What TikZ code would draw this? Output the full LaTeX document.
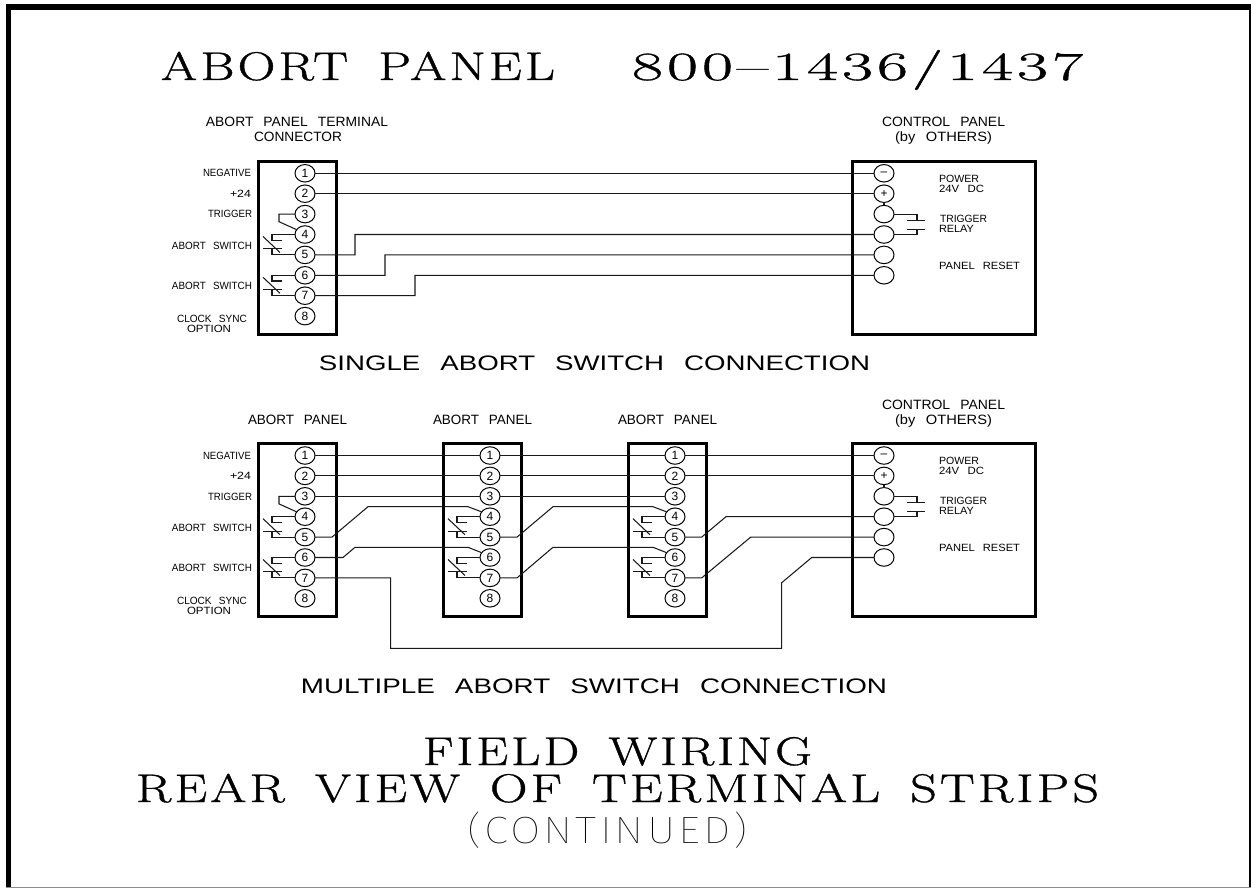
\documentclass[tikz,border=0pt]{standalone}
\usepackage{fontspec}
\usepackage{graphicx}
\usetikzlibrary{shapes.geometric,calc}
\newfontfamily\cadfont{Liberation Sans}[WordSpace=2.6]
\newfontfamily\ttlfont{Latin Modern Roman}[LetterSpace=6,WordSpace=1.6,FakeBold=0.8]
\newfontfamily\thinfont{Fira Sans Thin}[LetterSpace=7]
% text of a given width (pt), font size (pt), font switch
\newcommand\fw[4]{\resizebox{#1pt}{\height}{\fontsize{#2pt}{#2pt}\selectfont#3#4}}
\tikzset{
  x=1pt,y=-1pt,
  txt/.style={inner sep=0pt,outer sep=0pt,anchor=base,text=black},
  wire/.style={line width=1.05pt,line join=miter,draw=black!90},
  strip/.style={draw=black,line width=3pt,rectangle,inner sep=0pt,outer sep=0pt,minimum width=78pt,minimum height=172.7pt},
  panelbox/.style={strip,minimum width=183pt},
  term/.style={draw=black,line width=1pt,fill=white,ellipse,inner sep=0pt,outer sep=0pt,minimum width=20pt,minimum height=17.5pt,font=\cadfont\fontsize{12pt}{12pt}\selectfont},
}
% terminal column: prefix, x, first row y
\newcommand\terminals[3]{%
  \foreach \i in {1,...,8} {\node[term] (#1\i) at (#2,{#3+20.4*(\i-1)}) {\i};}}
% normally-closed switch between two terminals
\newcommand\abortswitch[2]{%
  \draw[wire] (#1.west) -- ($(#1.west)+(-23,0)$) -- ($(#1.west)+(-23,5.7)$) -- ($(#1.west)+(-13,5.7)$);
  \draw[wire] (#2.west) -- ($(#2.west)+(-23,0)$) -- ($(#2.west)+(-23,-6)$);
  \draw[wire] ($(#2.west)+(-32,-6)$) -- ($(#2.west)+(-13,-6)$);
  \draw[wire] ($(#1.west)+(-32,2)$) -- ($(#1.west)+(-15,18)$);}
% control panel: prefix, first row y
\newcommand\controlpanel[2]{%
  \foreach \i/\t in {1/{–},2/{+},3/{},4/{},5/{},6/{}} {\node[term] (#1\i) at (884,{#2+20.4*(\i-1)}) {\t};}
  \draw[wire] (#12.south) -- (#13.north);
  \draw[wire] (#13.east) -| ($(#13.east)+(23,6.6)$);
  \draw[wire] ($(#13.east)+(13,6.6)$) -- ($(#13.east)+(31,6.6)$);
  \draw[wire] (#14.east) -| ($(#14.east)+(23,-5.3)$);
  \draw[wire] ($(#14.east)+(13,-5.3)$) -- ($(#14.east)+(31,-5.3)$);
  \node[txt] (#1tp) at (959,{#2+9.4}) {\fw{40}{10.5}{\cadfont}{POWER}};
  \node[txt] (#1tv) at (961.5,{#2+19.4}) {\fw{45}{10.5}{\cadfont}{24V DC}};
  \node[txt] (#1tt) at (963.5,{#2+49.4}) {\fw{47}{10.5}{\cadfont}{TRIGGER}};
  \node[txt] (#1tr) at (956.5,{#2+59.4}) {\fw{35}{10.5}{\cadfont}{RELAY}};
  \node[txt] (#1tq) at (979.5,{#2+96.4}) {\fw{81}{10.5}{\cadfont}{PANEL RESET}};
  \node[txt] (#1ha) at (943.5,{#2-46.3}) {\fw{123}{13.5}{\cadfont}{CONTROL PANEL}};
  \node[txt] (#1hb) at (943.5,{#2-31.3}) {\fw{97}{13.5}{\cadfont}{(by OTHERS)}};}
% left labels: prefix, first row y
\newcommand\leftlabels[2]{%
  \node[txt] (#1la) at (227,{#2+3.7}) {\fw{48}{10.5}{\cadfont}{NEGATIVE}};
  \node[txt] (#1lb) at (240.5,{#2+24.2}) {\fw{21}{10.5}{\cadfont}{+24}};
  \node[txt] (#1lc) at (230,{#2+44.7}) {\fw{44}{10.5}{\cadfont}{TRIGGER}};
  \node[txt] (#1ld) at (212,{#2+75.7}) {\fw{80}{10.5}{\cadfont}{ABORT SWITCH}};
  \node[txt] (#1le) at (212,{#2+115.7}) {\fw{80}{10.5}{\cadfont}{ABORT SWITCH}};
  \node[txt] (#1lf) at (212,{#2+149.2}) {\fw{70}{10.5}{\cadfont}{CLOCK SYNC}};
  \node[txt] (#1lg) at (209,{#2+159.4}) {\fw{44}{10.5}{\cadfont}{OPTION}};}
\begin{document}
\begin{tikzpicture}
\useasboundingbox (0,0) rectangle (1251,888);
\fill[white] (0,0) rectangle (1251,888);
% sheet frame
\fill[black] (5.5,4) rectangle (1251,10);
\fill[black] (5.5,4) rectangle (11,888);
\fill[black] (1248.5,4) rectangle (1251,888);
\fill[black!45] (5.5,886.5) rectangle (1251,888);
% titles
\node[txt] (title) at (622,80) {\fw{394}{40}{\ttlfont}{ABORT PANEL}\hspace{77pt}\fw{451}{40}{\ttlfont}{800–1436/1437}};
\node[txt] (sub1) at (297,127) {\fw{182}{13.5}{\cadfont}{ABORT PANEL TERMINAL}};
\node[txt] (sub2) at (298,142) {\fw{88}{13.5}{\cadfont}{CONNECTOR}};
\node[txt] (cap1) at (594.5,370) {\fw{551}{21}{\cadfont}{SINGLE ABORT SWITCH CONNECTION}};
\node[txt] (hd1) at (297.5,424) {\fw{99}{13.5}{\cadfont}{ABORT PANEL}};
\node[txt] (hd2) at (482.5,424) {\fw{99}{13.5}{\cadfont}{ABORT PANEL}};
\node[txt] (hd3) at (667.5,424) {\fw{99}{13.5}{\cadfont}{ABORT PANEL}};
\node[txt] (cap2) at (594,693) {\fw{586}{21}{\cadfont}{MULTIPLE ABORT SWITCH CONNECTION}};
\node[txt] (tt1) at (617.5,765) {\fw{389}{40}{\ttlfont}{FIELD WIRING}};
\node[txt] (tt2) at (617.5,802) {\fw{963}{40}{\ttlfont}{REAR VIEW OF TERMINAL STRIPS}};
\node[txt] (tt3) at (607.5,843) {\fw{281}{38}{\thinfont}{(CONTINUED)}};
% boxes
\node[strip] (ub) at (297.2,247.85) {};
\node[panelbox] (uc) at (943.7,247.85) {};
\node[strip] (lb) at (297.2,529.7) {};
\node[strip] (mb) at (482.5,529.7) {};
\node[strip] (nb) at (667.5,529.7) {};
\node[panelbox] (lc) at (943.7,529.7) {};
% upper diagram
\terminals{u}{305}{173.3}
\controlpanel{r}{173.3}
\leftlabels{a}{173.3}
\draw[wire] (u1.east) -- (r1.west);
\draw[wire] (u2.east) -- (r2.west);
\draw[wire] (u5.east) -- (355,254.9) -- (355,234.5) -- (r4.west);
\draw[wire] (u6.east) -- (385,275.3) -- (385,254.9) -- (r5.west);
\draw[wire] (u7.east) -- (415,295.7) -- (415,275.3) -- (r6.west);
\draw[wire] (u3.west) -- (279,214.1) -- (279,221.7) -- (u4.150);
\abortswitch{u4}{u5}
\abortswitch{u6}{u7}
% lower diagram
\terminals{l}{305}{455.5}
\terminals{m}{490}{455.5}
\terminals{n}{675}{455.5}
\controlpanel{s}{455.5}
\leftlabels{b}{455.5}
\draw[wire] (l1.east) -- (m1.west) (m1.east) -- (n1.west) (n1.east) -- (s1.west);
\draw[wire] (l2.east) -- (m2.west) (m2.east) -- (n2.west) (n2.east) -- (s2.west);
\draw[wire] (l3.east) -- (m3.west) (m3.east) -- (n3.west);
\draw[wire] (l3.west) -- (279,496.3) -- (279,503.9) -- (l4.150);
\draw[wire] (l5.east) -- (332,537.1) -- (368,506.7) -- (468,506.7) -- (m4.150);
\draw[wire] (l6.east) -- (343,557.5) -- (355,547.3) -- (468,547.3) -- (m6.150);
\draw[wire] (l7.east) -- (390.7,577.9) -- (390.7,648.3) -- (781.7,648.3) -- (781.7,582.7) -- (811.7,557.5) -- (s6.west);
\draw[wire] (m5.east) -- (517,537.1) -- (553,506.7) -- (653,506.7) -- (n4.150);
\draw[wire] (m7.east) -- (517,577.9) -- (553,547.3) -- (653,547.3) -- (n6.150);
\draw[wire] (n5.east) -- (701.7,537.1) -- (726,516.7) -- (s4.west);
\draw[wire] (n7.east) -- (701.7,577.9) -- (750.7,537.1) -- (s5.west);
\abortswitch{l4}{l5}
\abortswitch{l6}{l7}
\abortswitch{m4}{m5}
\abortswitch{m6}{m7}
\abortswitch{n4}{n5}
\abortswitch{n6}{n7}
\end{tikzpicture}
\end{document}
